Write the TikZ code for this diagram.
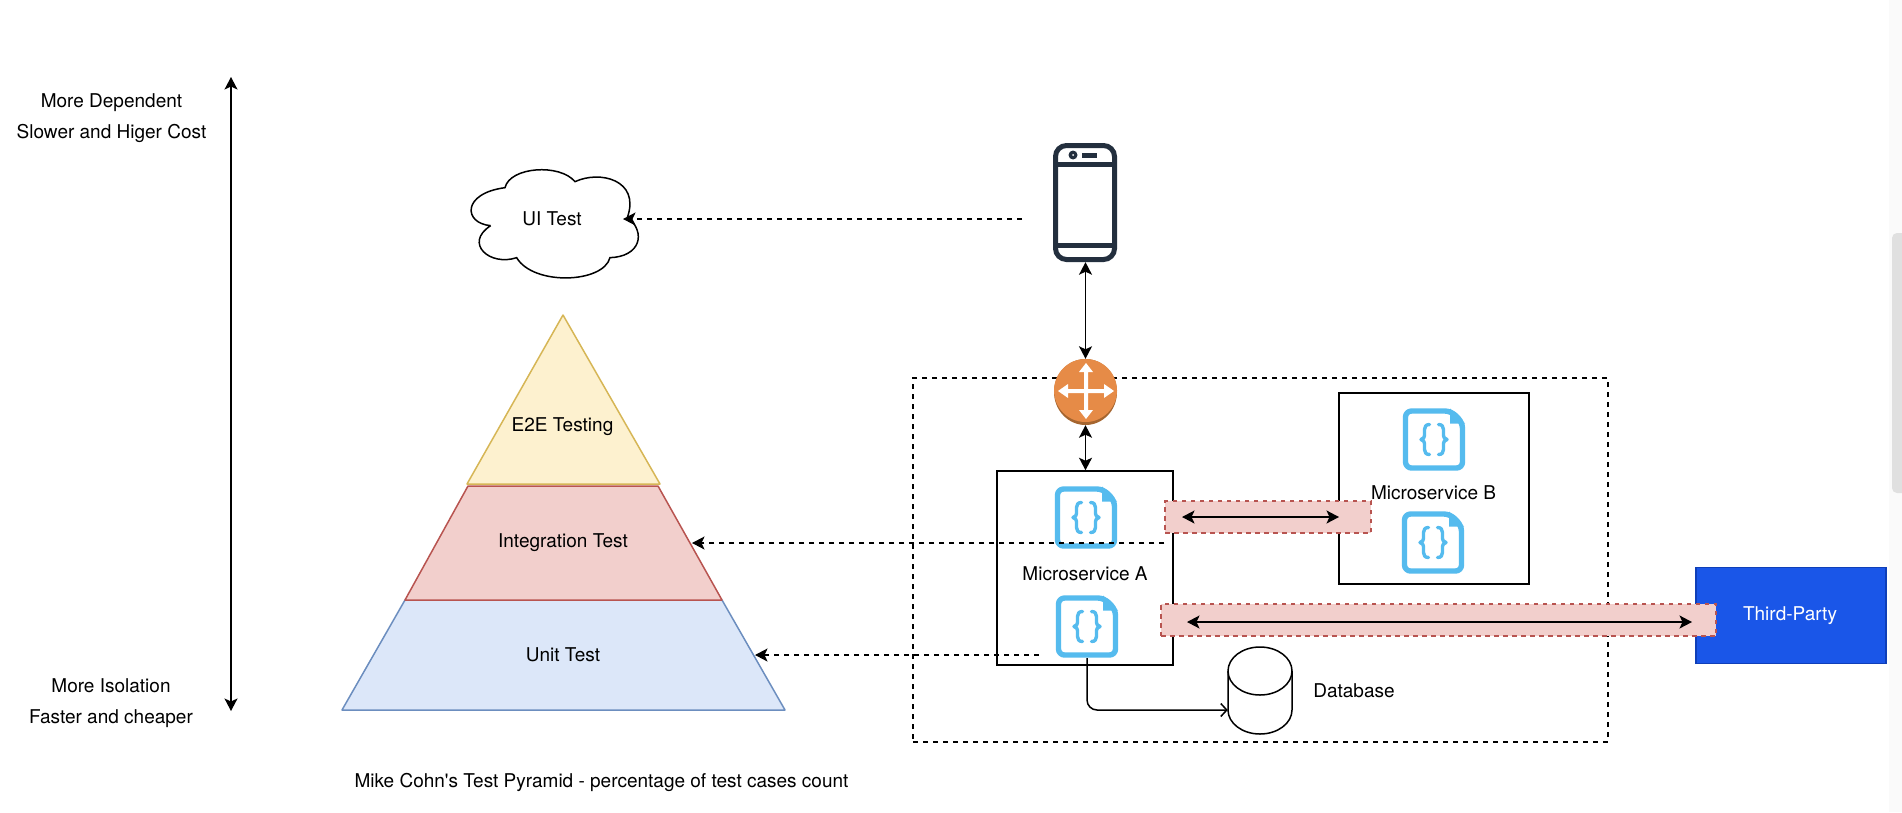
\documentclass[tikz,border=0pt]{standalone}
\usepackage{fontspec}
\newfontfamily\heros{TeX Gyre Heros}
\usetikzlibrary{arrows.meta}
\definecolor{yelF}{HTML}{FDF1CF}
\definecolor{yelD}{HTML}{D6B656}
\definecolor{redF}{HTML}{F2CFCC}
\definecolor{redD}{HTML}{B85450}
\definecolor{bluF}{HTML}{DCE7F9}
\definecolor{bluD}{HTML}{6C8EBF}
\definecolor{iconB}{HTML}{55BBEE}
\definecolor{phoneC}{HTML}{232F3E}
\definecolor{orangeF}{HTML}{E68B47}
\definecolor{orangeD}{HTML}{A5652F}
\definecolor{thirdF}{HTML}{1A56E8}
\definecolor{thirdD}{HTML}{0F3FB8}
\definecolor{trackC}{HTML}{FAFAFA}
\definecolor{thumbC}{HTML}{E0E0E0}
\tikzset{
  x=1pt,y=-1pt,
  lbl/.style={inner sep=0pt,font=\heros\fontsize{19pt}{22pt}\selectfont,align=center},
  cn/.style={line width=1.5pt,-{Stealth[length=12.5pt,width=13pt,inset=3pt]}},
  bicn/.style={line width=1.5pt,{Stealth[length=12.5pt,width=13pt,inset=3pt]}-{Stealth[length=12.5pt,width=13pt,inset=3pt]}},
  dcn/.style={cn,dash pattern=on 5pt off 5pt},
  box/.style={draw,line width=1.5pt,fill=white,inner sep=0pt},
  pinkbox/.style={draw=redD,fill=redF,line width=1.3pt,dash pattern=on 4.5pt off 4.5pt,inner sep=0pt},
  docicon/.pic={
    \draw[iconB,line width=5.4pt,line join=round,rounded corners=6pt] (-28.5,-28.5) -- (17,-28.5) -- (28.5,-17) -- (28.5,28.5) -- (-28.5,28.5) -- cycle;
    \fill[iconB] (16,-31) -- (31,-16) -- (16,-16) -- cycle;
    \draw[iconB,line width=3.4pt,line join=round,line cap=round]
      (-4.5,-15) .. controls (-8,-15) and (-9.5,-13) .. (-9.5,-10) -- (-9.5,-4) .. controls (-9.5,-2) and (-10.5,-1) .. (-13,0) .. controls (-10.5,1) and (-9.5,2) .. (-9.5,4) -- (-9.5,10) .. controls (-9.5,13) and (-8,15) .. (-4.5,15);
    \draw[iconB,line width=3.4pt,line join=round,line cap=round]
      (4.5,-15) .. controls (8,-15) and (9.5,-13) .. (9.5,-10) -- (9.5,-4) .. controls (9.5,-2) and (10.5,-1) .. (13,0) .. controls (10.5,1) and (9.5,2) .. (9.5,4) -- (9.5,10) .. controls (9.5,13) and (8,15) .. (4.5,15);
  }
}
\begin{document}
\begin{tikzpicture}
\useasboundingbox (0,0) rectangle (1902,812);
% scrollbar
\fill[trackC] (1889,0) rectangle (1902,812);
\fill[thumbC,rounded corners=5pt] (1892,233) rectangle (1910,493);
% left arrow and labels
\coordinate (depTop) at (231,77);
\coordinate (depBot) at (231,711);
\draw[bicn] (depBot) -- (depTop);
\node[lbl] (dep1) at (111.5,103) {More Dependent};
\node[lbl] (dep2) at (111.5,133.5) {Slower and Higer Cost};
\node[lbl] (iso1) at (111,686) {More Isolation};
\node[lbl] (iso2) at (111,718.5) {Faster and cheaper};
% pyramid
\draw[fill=bluF,draw=bluD,line width=1.5pt,line join=round] (405,600) -- (722,600) -- (785,710) -- (342,710) -- cycle;
\draw[fill=redF,draw=redD,line width=1.5pt,line join=round] (468,486) -- (658,486) -- (722,600) -- (405,600) -- cycle;
\draw[fill=yelF,draw=yelD,line width=1.5pt,line join=round] (563,315) -- (660,484) -- (467,484) -- cycle;
\node[lbl] (e2e) at (562.5,426.5) {E2E Testing};
\node[lbl] (integ) at (563,543) {Integration Test};
\node[lbl] (unit) at (563,655) {Unit Test};
\coordinate (integR) at (692,543);
\coordinate (unitR) at (755,655);
\node[lbl] (cap) at (601.5,782) {Mike Cohn's Test Pyramid - percentage of test cases count};
% cloud
\begin{scope}[shift={(440,160)},x=0.3333pt,y=-0.3333pt]
\draw[line width=1.5pt,fill=white] (152,197) .. controls (70,190) and (65,100) .. (195,83)
  .. controls (210,20) and (360,10) .. (405,65)
  .. controls (480,30) and (600,60) .. (563,170)
  .. controls (620,220) and (600,290) .. (510,293)
  .. controls (490,370) and (280,378) .. (230,293)
  .. controls (150,320) and (70,250) .. (152,197);
\end{scope}
\node[lbl] (ui) at (552,219) {UI Test};
\coordinate (uiR) at (623,219);
\coordinate (phoneL) at (1022,219);
% dashed region
\node[draw,line width=1.5pt,dash pattern=on 5pt off 5pt,minimum width=695pt,minimum height=364pt,inner sep=0pt] (region) at (1260.5,560) {};
% phone
\node[inner sep=0pt,minimum width=64pt,minimum height=119pt] (phone) at (1085,202.5) {};
\draw[phoneC,line width=5pt,rounded corners=11pt] (1055.5,145.5) rectangle (1114.5,259.5);
\draw[phoneC,line width=5pt] (1055.5,164) -- (1114.5,164) (1055.5,245) -- (1114.5,245);
\fill[phoneC] (1073,155) circle (4.5pt);
\fill[white] (1073,155) circle (1pt);
\fill[phoneC] (1082,153) rectangle (1097,158);
% router
\node[circle,inner sep=0pt,minimum size=66pt] (router) at (1085.5,392) {};
\fill[orangeD] (1085.5,392) ellipse [x radius=31.5pt,y radius=33pt];
\fill[orangeF] (1085.5,390.5) ellipse [x radius=31.5pt,y radius=31.5pt];
\fill[white] (1084,372) -- (1079,372) -- (1086,363) -- (1093,372) -- (1088,372) -- (1088,389) -- (1104,389) -- (1104,384) -- (1114,391) -- (1104,398) -- (1104,393) -- (1088,393) -- (1088,410) -- (1093,410) -- (1086,419) -- (1079,410) -- (1084,410) -- (1084,393) -- (1068,393) -- (1068,398) -- (1058,391) -- (1068,384) -- (1068,389) -- (1084,389) -- cycle;
% services
\node[box,minimum width=176pt,minimum height=194pt] (msA) at (1085,568) {};
\node[box,minimum width=190pt,minimum height=191pt] (msB) at (1434,488.5) {};
\node[lbl] (msAl) at (1085,573.5) {Microservice A};
\node[lbl] (msBl) at (1433.5,493) {Microservice B};
\pic at (1086,517.5) {docicon};
\pic at (1087,626.5) {docicon};
\pic at (1434,439.5) {docicon};
\pic at (1433,542.5) {docicon};
\coordinate (docA2) at (1087,658);
% database
\node[inner sep=0pt,minimum width=64pt,minimum height=87pt] (db) at (1260,690.5) {};
\draw[line width=1.5pt,fill=white] (1228,671) arc [start angle=180,end angle=0,x radius=32pt,y radius=24pt] -- (1292,710) arc [start angle=0,end angle=-180,x radius=32pt,y radius=24pt] -- cycle;
\draw[line width=1.5pt] (1228,671) arc [start angle=180,end angle=360,x radius=32pt,y radius=24pt];
\node[lbl] (dbl) at (1354,691) {Database};
% third party
\node[draw=thirdD,fill=thirdF,line width=1.5pt,minimum width=190pt,minimum height=96pt,inner sep=0pt] (third) at (1791,615.5) {};
\node[lbl,text=white] (thirdl) at (1790,616) {Third-Party};
% pink bands
\node[pinkbox,minimum width=206pt,minimum height=32pt] (pinkB) at (1268,517) {};
\node[pinkbox,minimum width=555pt,minimum height=32pt] (pinkT) at (1438.5,620) {};
\coordinate (pinkBl) at (1182,517);
\coordinate (pinkBr) at (1339,517);
\coordinate (pinkTl) at (1187,622);
\coordinate (pinkTr) at (1692,622);
\coordinate (unitS) at (1039,655);
% connectors
\draw[dcn] (phoneL) -- (uiR);
\draw[dcn] (pinkB.west |- integR) -- (integR);
\draw[dcn] (unitS) -- (unitR);
\draw[bicn] (router |- phone.south) -- (router.north);
\draw[bicn] (router.south) -- (msA.north -| router);
\draw[bicn] (pinkBl) -- (pinkBr);
\draw[bicn] (pinkTl) -- (pinkTr);
\draw[line width=1.5pt,rounded corners=10pt,-{Straight Barb[length=6pt,width=13pt]}] (docA2) -- (docA2 |- 0,710) -- (db.west |- 0,710);
\end{tikzpicture}
\end{document}
